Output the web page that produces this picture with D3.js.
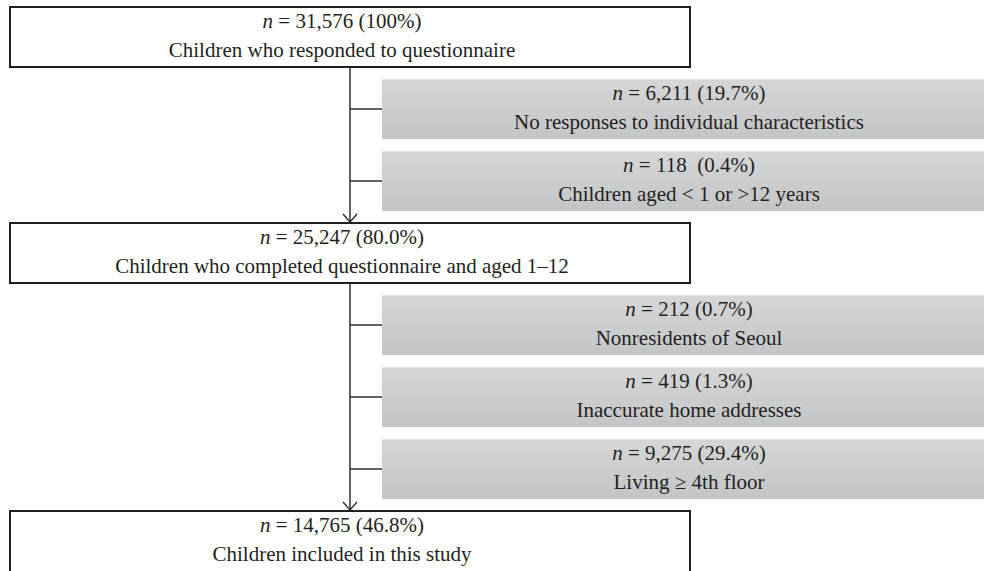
<!DOCTYPE html>
<html>
<head>
<meta charset="utf-8">
<script src="https://cdn.jsdelivr.net/npm/d3@7"></script>
<style>
  html, body { margin: 0; padding: 0; background: #fff; }
  svg { display: block; }
  text { font-family: "Liberation Serif", "Times New Roman", serif; fill: #231f20; white-space: pre; }
</style>
</head>
<body>
<svg id="chart" width="984" height="571"></svg>
<script>
// ---- data ----
const stageKinds   = ["main", "excl", "excl", "main", "excl", "excl", "excl", "main"];
const stageCounts  = ["31,576", "6,211", "118 ", "25,247", "212", "419", "9,275", "14,765"];
const stagePercent = ["100%", "19.7%", "0.4%", "80.0%", "0.7%", "1.3%", "29.4%", "46.8%"];
const stageLabels  = [
  "Children who responded to questionnaire",
  "No responses to individual characteristics",
  "Children aged < 1 or >12 years",
  "Children who completed questionnaire and aged 1\u201312",
  "Nonresidents of Seoul",
  "Inaccurate home addresses",
  "Living \u2265 4th floor",
  "Children included in this study"
];

const stages = stageKinds.map((k, i) => ({
  kind: k, count: stageCounts[i], pct: stagePercent[i], label: stageLabels[i], idx: i
}));

const svg = d3.select("#chart");

// vertical slot scale
const y = d3.scaleLinear().domain([0, stages.length - 1]).range([7, 511]);
const boxH = 60;
const lastIdx = stages.length - 1;

// horizontal geometry
const mainX0 = 10, mainX1 = 690, mainTextX = 342;
const exX0 = 382, exX1 = 996, exTextX = 689;
const spineX = 350;
const fs = 21;

const defs = svg.append("defs");
const grad = defs.append("linearGradient").attr("id", "gray").attr("x1", 0).attr("y1", 0).attr("x2", 0).attr("y2", 1);
grad.append("stop").attr("offset", "0%").attr("stop-color", "#d5d6d8");
grad.append("stop").attr("offset", "100%").attr("stop-color", "#c3c4c6");

// spine lines between main boxes with arrows
const mainIdx = stages.filter(s => s.kind === "main").map(s => s.idx);
const ink = "#231f20";
for (let m = 0; m < mainIdx.length - 1; m++) {
  const a = mainIdx[m], b = mainIdx[m + 1];
  const yStart = y(a) + boxH, yEnd = y(b);
  svg.append("line").attr("x1", spineX).attr("x2", spineX)
    .attr("y1", yStart).attr("y2", yEnd - 1)
    .attr("stroke", ink).attr("stroke-width", 1.4);
  svg.append("path")
    .attr("d", d3.line()([[spineX - 7, yEnd - 9], [spineX, yEnd - 1], [spineX + 7, yEnd - 9]]))
    .attr("fill", "none").attr("stroke", ink).attr("stroke-width", 1.2);
}

// exclusion boxes
const ex = svg.selectAll("g.ex").data(stages.filter(s => s.kind === "excl")).join("g").attr("class", "ex");
ex.append("line")
  .attr("x1", spineX).attr("x2", exX0)
  .attr("y1", d => y(d.idx) + boxH / 2).attr("y2", d => y(d.idx) + boxH / 2)
  .attr("stroke", ink).attr("stroke-width", 1.4);
ex.append("rect")
  .attr("x", exX0).attr("y", d => y(d.idx))
  .attr("width", exX1 - exX0).attr("height", boxH)
  .attr("fill", "url(#gray)");
ex.append("line")
  .attr("x1", exX0).attr("x2", exX1)
  .attr("y1", d => y(d.idx) + 0.5).attr("y2", d => y(d.idx) + 0.5)
  .attr("stroke", "#e4e5e6").attr("stroke-width", 1);

// main boxes
const mn = svg.selectAll("g.mn").data(stages.filter(s => s.kind === "main")).join("g").attr("class", "mn");
mn.append("rect")
  .attr("x", mainX0).attr("y", d => y(d.idx))
  .attr("width", mainX1 - mainX0).attr("height", d => d.idx === lastIdx ? boxH + 4 : boxH)
  .attr("fill", "#fff").attr("stroke", ink).attr("stroke-width", 2);

// texts
function addText(sel, cx) {
  const t1 = sel.append("text").attr("x", cx).attr("y", d => y(d.idx) + 21)
    .attr("text-anchor", "middle").attr("font-size", fs);
  t1.append("tspan").attr("font-style", "italic").text("n");
  t1.append("tspan").text(d => " = " + d.count + " (" + d.pct + ")");
  sel.append("text").attr("x", cx).attr("y", d => y(d.idx) + 50)
    .attr("text-anchor", "middle").attr("font-size", fs)
    .text(d => d.label);
}
addText(ex, exTextX);
addText(mn, mainTextX);
</script>
</body>
</html>
